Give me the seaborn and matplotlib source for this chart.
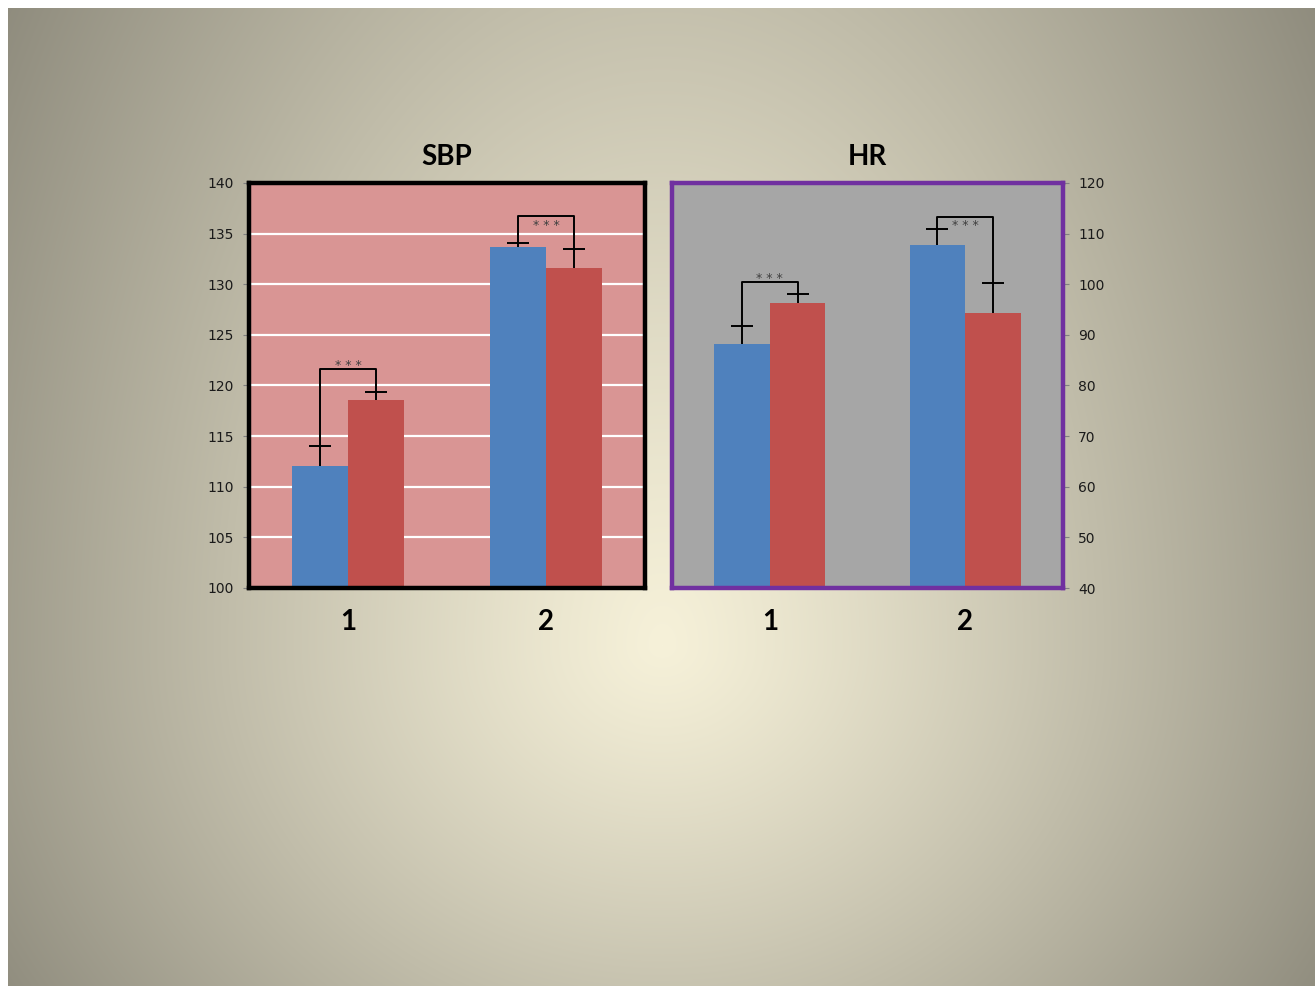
import numpy as np
import pandas as pd
import seaborn as sns
import matplotlib.pyplot as plt

# values
groups = ['1', '2']
series = ['a', 'b']

sbp_mean = [112.0, 118.6, 133.65, 131.6]   # g1-a, g1-b, g2-a, g2-b
sbp_err = [2.0, 0.8, 0.45, 1.9]
sbp_bracket = [121.6, 136.7]

hr_mean = [88.1, 96.2, 107.8, 94.4]
hr_err = [3.7, 1.8, 3.1, 5.8]
hr_bracket = [100.5, 113.3]

sbp_ticks = [100, 105, 110, 115, 120, 125, 130, 135, 140]
hr_ticks = [40, 50, 60, 70, 80, 90, 100, 110, 120]

BLUE = '#4F81BD'
RED = '#C0504D'
W, H = 1315, 986


def make_df(means, errs):
    rows = []
    i = 0
    for g in groups:
        for s in series:
            rows.append({'group': g, 'series': s, 'value': means[i], 'err': errs[i]})
            i += 1
    return pd.DataFrame(rows)


def draw_background(fig):
    # off-centre radial gradient, white strip on top/left like the slide capture
    x0, y0 = 8, 8
    xs = np.arange(x0, W)
    ys = np.arange(y0, H)
    xx, yy = np.meshgrid(xs, ys)
    dy = yy - 645.0
    b = np.where(dy < 0, 1250.0, 700.0)
    t = np.sqrt(((xx - 662) / 800.0) ** 2 + (dy / b) ** 2)
    t = np.clip(t, 0, 1) ** 1.15
    c0 = np.array([246, 241, 217]) / 255.0
    c1 = np.array([139, 136, 122]) / 255.0
    img = c0[None, None, :] * (1 - t[..., None]) + c1[None, None, :] * t[..., None]
    bg = fig.add_axes([x0 / W, 0, 1 - x0 / W, 1 - y0 / H])
    bg.imshow(img, aspect='auto', interpolation='bilinear')
    bg.set_axis_off()
    bg.set_zorder(0)


def draw_panel(ax, df, brackets, ticks, title, face, edge, grid, right):
    sns.barplot(data=df, x='group', y='value', hue='series', palette=[BLUE, RED],
                width=0.57, saturation=1, linewidth=0, errorbar=None,
                legend=False, ax=ax, zorder=3)
    ax.set_facecolor(face)
    ax.set_xlim(-0.5, 1.5)
    ax.set_ylim(ticks[0], ticks[-1])
    ax.set_yticks(ticks)
    ax.set_xlabel('')
    ax.set_ylabel('')
    ax.grid(False)
    if grid:
        for v in ticks[1:-1]:
            ax.axhline(v, color='white', lw=1.6, zorder=1)
    for sp in ax.spines.values():
        sp.set_visible(True)
        sp.set_color(edge)
        sp.set_linewidth(3.2)
        sp.set_zorder(5)

    ax.tick_params(axis='x', length=0, pad=15, labelsize=20, labelcolor='black')
    for lab in ax.get_xticklabels():
        lab.set_fontweight('bold')
    ax.tick_params(axis='y', length=4, width=0.8, color='#808080', direction='out',
                   labelsize=10, labelcolor='#1a1a1a', pad=7,
                   left=not right, labelleft=not right, right=right, labelright=right)
    for lab in ax.get_yticklabels():
        lab.set_family('DejaVu Sans')
    ax.set_title(title, fontsize=20, fontweight='bold', pad=13, color='black')

    # one-sided error bars + significance brackets
    blues, reds = ax.containers[0], ax.containers[1]
    for gi in range(len(groups)):
        pair = [blues[gi], reds[gi]]
        tops = []
        xs = []
        for k, p in enumerate(pair):
            x = p.get_x() + p.get_width() / 2
            row = df[(df['group'] == groups[gi]) & (df['series'] == series[k])].iloc[0]
            y, e = row['value'], row['err']
            ax.plot([x, x], [y, y + e], color='black', lw=1.4, zorder=4, solid_capstyle='butt')
            ax.plot([x], [y + e], marker='_', markersize=16, mew=1.4, color='black', zorder=4)
            xs.append(x)
            tops.append(y + e)
        top = brackets[gi]
        ax.plot([xs[0], xs[0], xs[1], xs[1]], [tops[0], top, top, tops[1]],
                color='black', lw=1.4, zorder=4)
        span = ticks[-1] - ticks[0]
        below = top > ticks[-1] - 0.12 * span
        ax.annotate('* * *', ((xs[0] + xs[1]) / 2, top),
                    xytext=(0, -9 if below else 0), textcoords='offset points',
                    ha='center', va='baseline', family='DejaVu Sans',
                    fontsize=9, color='#404040', zorder=6)


def main():
    sns.set_theme(style='white')
    plt.rcParams['font.family'] = ['Lato', 'DejaVu Sans']

    fig = plt.figure(figsize=(W / 100, H / 100), dpi=100)
    fig.patch.set_facecolor('white')
    draw_background(fig)

    ax1 = fig.add_axes([249 / W, 1 - 588 / H, 396 / W, 405 / H])
    ax2 = fig.add_axes([672 / W, 1 - 588 / H, 391 / W, 405 / H])
    ax1.set_zorder(2)
    ax2.set_zorder(2)

    draw_panel(ax1, make_df(sbp_mean, sbp_err), sbp_bracket, sbp_ticks,
               'SBP', '#D99594', 'black', True, False)
    draw_panel(ax2, make_df(hr_mean, hr_err), hr_bracket, hr_ticks,
               'HR', '#A6A6A6', '#7030A0', False, True)

    fig.savefig('out.png', dpi=100)


if __name__ == '__main__':
    main()
